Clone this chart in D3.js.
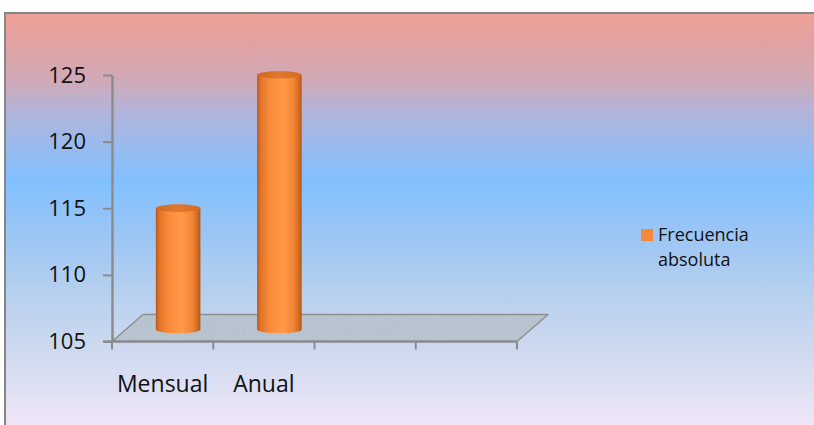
<!DOCTYPE html>
<html>
<head>
<meta charset="utf-8">
<script src="https://cdn.jsdelivr.net/npm/d3@7"></script>
<style>
  html, body { margin: 0; padding: 0; background: #ffffff; }
  svg { display: block; }
  text { font-family: "Open Sans", "Liberation Sans", sans-serif; fill: #111; }
</style>
</head>
<body>
<svg id="chart" width="814" height="425"></svg>
<script>
// Frecuencia absoluta por tipo de periodo
const categories = ["Mensual", "Anual"];
const values = [114, 124];
const seriesName = ["Frecuencia", "absoluta"];
const yTicks = [105, 110, 115, 120, 125];
const slotCount = 4;              // category slots along the floor

const svg = d3.select("#chart");
const defs = svg.append("defs");

// Plot frame and 3D depth offset of the floor
const frame = { x: 5, y: 13, w: 820, h: 430 };
const plot = { left: 112, right: 517, top: 75, bottom: 341.5 };
const depth = { dx: 31, dy: -27 };

// Background gradient
const bg = defs.append("linearGradient").attr("id", "bg")
  .attr("x1", 0).attr("y1", 0).attr("x2", 0).attr("y2", 1);
[
  [0.00, "#eea096"], [0.08, "#dfa2a4"], [0.16, "#cfaab8"], [0.23, "#b2b4da"],
  [0.33, "#92bcf2"], [0.39, "#82c0ff"], [0.52, "#9cc6f4"], [0.68, "#bcd2ee"],
  [0.80, "#d0daf0"], [0.90, "#e4e2f5"], [1.00, "#f6e8f8"]
].forEach(([o, c]) => bg.append("stop").attr("offset", o).attr("stop-color", c));

// Cylinder body shading (left to right)
const cyl = defs.append("linearGradient").attr("id", "cyl")
  .attr("x1", 0).attr("y1", 0).attr("x2", 1).attr("y2", 0);
[
  [0.00, "#b8581a"], [0.08, "#e2742a"], [0.30, "#fa8c3a"], [0.58, "#ff9a48"],
  [0.82, "#f28434"], [0.94, "#d06a22"], [1.00, "#b05416"]
].forEach(([o, c]) => cyl.append("stop").attr("offset", o).attr("stop-color", c));

const capGrad = defs.append("linearGradient").attr("id", "cap")
  .attr("x1", 0).attr("y1", 0).attr("x2", 1).attr("y2", 0);
[[0, "#cf6a22"], [0.5, "#e0782c"], [1, "#d26c24"]]
  .forEach(([o, c]) => capGrad.append("stop").attr("offset", o).attr("stop-color", c));

// Subtle grain for the floor surface
const grain = defs.append("filter").attr("id", "grain")
  .attr("x", 0).attr("y", 0).attr("width", 1).attr("height", 1);
grain.append("feTurbulence").attr("type", "fractalNoise")
  .attr("baseFrequency", 0.35).attr("numOctaves", 2).attr("seed", 4).attr("result", "n");
grain.append("feColorMatrix").attr("in", "n").attr("type", "matrix")
  .attr("values", "0 0 0 0 0.45  0 0 0 0 0.5  0 0 0 0 0.55  0 0 0 -1.2 0.75").attr("result", "c");
grain.append("feComposite").attr("in", "c").attr("in2", "SourceGraphic").attr("operator", "in");

svg.append("rect")
  .attr("x", frame.x).attr("y", frame.y)
  .attr("width", frame.w).attr("height", frame.h)
  .attr("fill", "url(#bg)")
  .attr("stroke", "#858585").attr("stroke-width", 2);

// Scales
const x = d3.scaleBand()
  .domain(d3.range(slotCount))
  .range([plot.left, plot.right])
  .padding(0);
const y = d3.scaleLinear()
  .domain([yTicks[0], yTicks[yTicks.length - 1]])
  .range([plot.bottom, plot.top]);

// Floor (parallelogram at the axis minimum)
const y0 = y(yTicks[0]);
const floorPts = [
  [plot.left, y0], [plot.left + depth.dx, y0 + depth.dy],
  [plot.right + depth.dx, y0 + depth.dy], [plot.right, y0]
];
const floorPath = "M" + floorPts.map(p => p.join(",")).join("L") + "Z";
svg.append("path").attr("d", floorPath).attr("fill", "#b8c4d0");
svg.append("path").attr("d", floorPath).attr("fill", "#b8c4d0").attr("filter", "url(#grain)").attr("opacity", 0.6);
svg.append("path").attr("d", floorPath).attr("fill", "none")
  .attr("stroke", "#8f8f8f").attr("stroke-width", 1.5).attr("stroke-linejoin", "round");

// X axis: front floor edge with slot boundary ticks
svg.append("line")
  .attr("x1", plot.left - 9).attr("x2", plot.right)
  .attr("y1", y0).attr("y2", y0)
  .attr("stroke", "#8c8c8c").attr("stroke-width", 2.5);
svg.append("g").selectAll("line")
  .data(d3.range(slotCount + 1))
  .join("line")
  .attr("x1", i => i < slotCount ? x(i) : plot.right)
  .attr("x2", i => i < slotCount ? x(i) : plot.right)
  .attr("y1", y0).attr("y2", y0 + 8)
  .attr("stroke", "#8c8c8c").attr("stroke-width", 2);

svg.append("g").selectAll("text")
  .data(categories)
  .join("text")
  .attr("x", (d, i) => x(i) + x.bandwidth() / 2)
  .attr("y", 392)
  .attr("text-anchor", "middle")
  .attr("font-size", 23)
  .text(d => d);

// Y axis
const yAxis = d3.axisLeft(y)
  .tickValues(yTicks)
  .tickSizeInner(9)
  .tickSizeOuter(0)
  .tickPadding(17)
  .tickFormat(d3.format("d"));
const gy = svg.append("g")
  .attr("transform", `translate(${plot.left},0)`)
  .call(yAxis);
gy.select(".domain").attr("stroke", "#8c8c8c").attr("stroke-width", 2.5);
gy.selectAll(".tick line").attr("stroke", "#8c8c8c").attr("stroke-width", 2);
gy.selectAll(".tick text")
  .attr("font-size", 22)
  .attr("font-family", "'Open Sans', 'Liberation Sans', sans-serif")
  .attr("fill", "#111");

// Cylinders, placed at mid depth
const rx = x.bandwidth() * 0.22;
const ry = 3.8;
const gBars = svg.append("g");
categories.forEach((c, i) => {
  const cx = x(i) + x.bandwidth() / 2 + depth.dx / 2;
  const yTop = y(values[i]) + depth.dy / 2;
  const yBot = y0 + depth.dy / 2 + 1.5;
  gBars.append("path")
    .attr("d", `M${cx - rx},${yTop} L${cx - rx},${yBot} A${rx},${ry} 0 0 0 ${cx + rx},${yBot} L${cx + rx},${yTop} Z`)
    .attr("fill", "url(#cyl)");
  gBars.append("ellipse")
    .attr("cx", cx).attr("cy", yTop)
    .attr("rx", rx).attr("ry", ry)
    .attr("fill", "url(#cap)");
});

// Legend
const legend = svg.append("g").attr("transform", "translate(641,229)");
legend.append("rect").attr("width", 12).attr("height", 12).attr("fill", "#f5883a");
legend.selectAll("text")
  .data(seriesName)
  .join("text")
  .attr("x", 17)
  .attr("y", (d, i) => 12 + i * 25)
  .attr("font-size", 18)
  .text(d => d);
</script>
</body>
</html>
